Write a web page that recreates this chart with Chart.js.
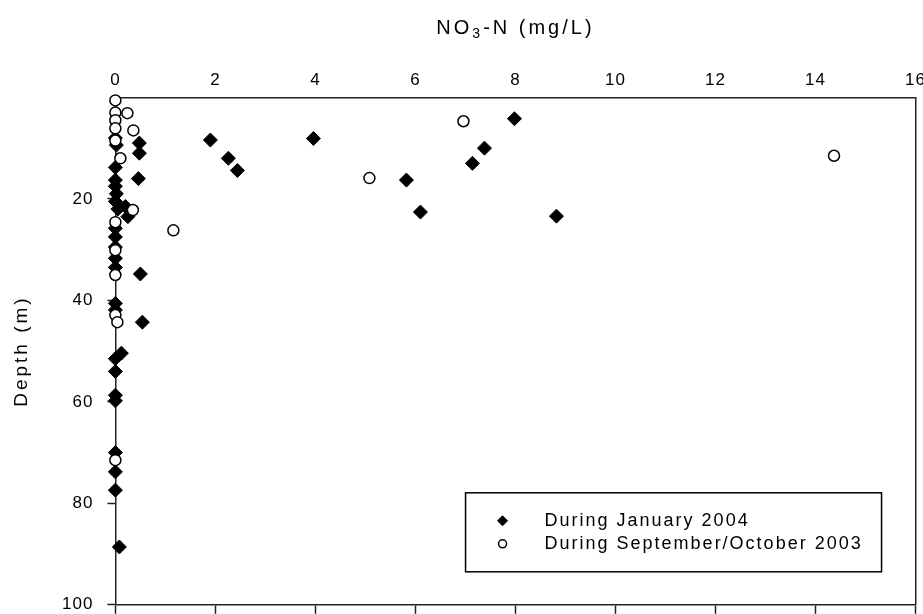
<!DOCTYPE html>
<html>
<head>
<meta charset="utf-8">
<script src="https://cdn.jsdelivr.net/npm/chart.js@4.4.1/dist/chart.umd.min.js"></script>
<style>
    html, body { margin: 0; padding: 0; background: #fff; overflow: hidden; }
    /* slightly larger than the window so the plot frame lands where the original has it */
    #wrap { width: 933px; height: 629px; }
</style>
</head>
<body>
<div id="wrap"><canvas id="chart"></canvas></div>
<script>
// NO3-N (mg/L) vs depth (m)
const janNitrate = [0.0, 0.02, 0.48, 0.48, 0.0, 0.0, 0.46, 0.0, 0.02, 0.0, 0.05, 0.2, 0.25, 0.0, 0.0, 0.0,
    0.0, 0.0, 0.5, 0.0, 0.0, 0.54, 0.12, 0.0, 0.0, 0.0, 0.0, 0.0, 0.0, 0.0, 0.08,
    1.9, 2.26, 2.44, 3.96, 5.82, 6.1, 7.14, 7.38, 7.98, 8.82];
const janDepth = [8.0, 9.4, 9.0, 11.0, 13.8, 16.3, 16.0, 17.5, 19.0, 20.5, 22.0, 21.5, 23.5, 25.8, 27.5, 29.5,
    31.7, 33.5, 34.8, 40.6, 41.9, 44.3, 50.4, 51.5, 54.0, 58.7, 59.8, 70.0, 73.8, 77.4, 88.6,
    8.4, 12.0, 14.4, 8.1, 16.3, 22.6, 13.0, 10.0, 4.2, 23.4];

const sepNitrate = [0.0, 0.0, 0.24, 0.0, 0.0, 0.36, 0.0, 0.1, 0.35, 0.0, 1.16, 0.0, 0.0, 0.0, 0.04, 0.0,
    5.08, 6.96, 14.37];
const sepDepth = [0.6, 3.0, 3.1, 4.5, 6.1, 6.5, 8.5, 12.0, 22.2, 24.6, 26.2, 30.1, 35.0, 42.9, 44.3, 71.5,
    15.9, 4.7, 11.5];

const nitrateTicks = [0, 2, 4, 6, 8, 10, 12, 14, 16];
const depthTicks = [0, 20, 40, 60, 80, 100];
const seriesLabels = ['During January 2004', 'During September/October 2003'];

const FONT = '"Liberation Sans", Arial, sans-serif';
const toPoints = (xs, ys) => xs.map((x, i) => ({ x: x, y: ys[i] }));

const filledStyle = { pointStyle: 'rectRot', radius: 7, bg: '#000', border: '#000', borderWidth: 1 };
const openStyle = { pointStyle: 'circle', radius: 5.5, bg: '#fff', border: '#000', borderWidth: 1.5 };

// ticks need a little extra spacing to look like the old bitmap font
const spacingPlugin = {
    id: 'spacing',
    beforeLayout(chart) { chart.ctx.letterSpacing = '1px'; },
    beforeDraw(chart) { chart.ctx.letterSpacing = '1px'; }
};

// axis titles (with subscript) and the boxed legend inside the plot
const decorPlugin = {
    id: 'decor',
    afterDraw(chart) {
        const ctx = chart.ctx;
        const a = chart.chartArea;
        const big = '20px ' + FONT;
        const small = '14px ' + FONT;

        ctx.save();
        ctx.fillStyle = '#000';
        ctx.strokeStyle = '#000';
        ctx.textBaseline = 'middle';
        ctx.textAlign = 'left';
        ctx.letterSpacing = '3px';

        const parts = [['NO', big, 0], ['3', small, 6], ['-N (mg/L)', big, 0]];
        let total = 0;
        parts.forEach(p => { ctx.font = p[1]; total += ctx.measureText(p[0]).width; });
        let x = (a.left + a.right) / 2 - total / 2;
        parts.forEach(p => {
            ctx.font = p[1];
            ctx.fillText(p[0], x, 28 + p[2]);
            x += ctx.measureText(p[0]).width;
        });

        ctx.save();
        ctx.translate(22, (a.top + a.bottom) / 2);
        ctx.rotate(-Math.PI / 2);
        ctx.textAlign = 'center';
        ctx.font = '19px ' + FONT;
        ctx.fillText('Depth (m)', 0, 0);
        ctx.restore();

        // legend box
        const w = 416, h = 79;
        const left = a.right - 34 - w;
        const top = a.bottom - 33 - h;
        ctx.lineWidth = 1.5;
        ctx.strokeRect(left, top, w, h);

        ctx.font = '18px ' + FONT;
        ctx.letterSpacing = '2px';
        [filledStyle, openStyle].forEach((s, i) => {
            const y = top + 28 + i * 23;
            ctx.fillStyle = s.bg;
            ctx.strokeStyle = s.border;
            ctx.lineWidth = s.borderWidth;
            Chart.helpers.drawPoint(ctx, {
                pointStyle: s.pointStyle, radius: i === 0 ? 5 : 4, borderWidth: s.borderWidth, rotation: 0
            }, left + 37, y);
            ctx.fillStyle = '#000';
            ctx.fillText(seriesLabels[i], left + 79, y);
        });
        ctx.restore();
    }
};

const axisColor = '#222';

new Chart(document.getElementById('chart'), {
    type: 'scatter',
    data: {
        datasets: [
            {
                label: seriesLabels[0],
                data: toPoints(janNitrate, janDepth),
                pointStyle: filledStyle.pointStyle,
                pointRadius: filledStyle.radius,
                pointBackgroundColor: filledStyle.bg,
                pointBorderColor: filledStyle.border,
                pointBorderWidth: filledStyle.borderWidth,
                clip: false,
                order: 2
            },
            {
                label: seriesLabels[1],
                data: toPoints(sepNitrate, sepDepth),
                pointStyle: openStyle.pointStyle,
                pointRadius: openStyle.radius,
                pointBackgroundColor: openStyle.bg,
                pointBorderColor: openStyle.border,
                pointBorderWidth: openStyle.borderWidth,
                clip: false,
                order: 1
            }
        ]
    },
    options: {
        responsive: true,
        maintainAspectRatio: false,
        animation: false,
        layout: { autoPadding: false, padding: { top: 63, left: 48, right: 0, bottom: 0 } },
        plugins: {
            legend: { display: false },
            tooltip: { enabled: false }
        },
        scales: {
            x: {
                type: 'linear',
                position: 'top',
                min: 0,
                max: 16,
                afterBuildTicks: s => { s.ticks = nitrateTicks.map(v => ({ value: v })); },
                grid: { display: false, drawTicks: false },
                border: { display: true, color: axisColor, width: 1.5 },
                ticks: { color: '#000', padding: 7, font: { family: FONT, size: 17 } }
            },
            x2: {
                type: 'linear',
                position: 'bottom',
                min: 0,
                max: 16,
                afterBuildTicks: s => { s.ticks = nitrateTicks.map(v => ({ value: v })); },
                grid: { drawOnChartArea: false, drawTicks: true, tickLength: 9, tickColor: axisColor, tickWidth: 1.5 },
                border: { display: true, color: axisColor, width: 1.5 },
                ticks: { display: false }
            },
            y: {
                type: 'linear',
                position: 'left',
                reverse: true,
                min: 0,
                max: 100,
                afterBuildTicks: s => { s.ticks = depthTicks.map(v => ({ value: v })); },
                grid: {
                    drawOnChartArea: false,
                    tickLength: 8,
                    tickWidth: 1.5,
                    tickColor: c => (c.tick && c.tick.value === 0) ? 'rgba(0,0,0,0)' : axisColor
                },
                border: { display: true, color: axisColor, width: 1.5 },
                ticks: {
                    color: '#000',
                    padding: 14,
                    font: { family: FONT, size: 17 },
                    callback: v => v === 0 ? '' : v
                }
            },
            y2: {
                type: 'linear',
                position: 'right',
                reverse: true,
                min: 0,
                max: 100,
                grid: { display: false, drawTicks: false },
                border: { display: true, color: axisColor, width: 1.5 },
                ticks: { display: false }
            }
        }
    },
    plugins: [spacingPlugin, decorPlugin]
});
</script>
</body>
</html>
